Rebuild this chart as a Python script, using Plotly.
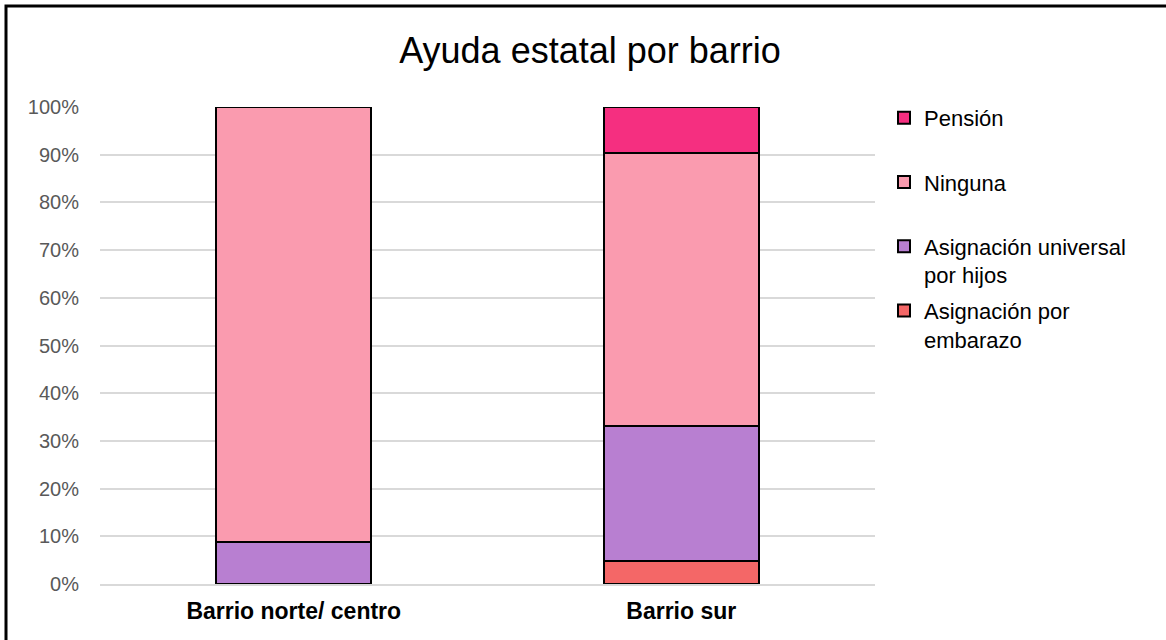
import plotly.graph_objects as go

categories = ["Barrio norte/ centro", "Barrio sur"]
embarazo = [None, 4.8]
auh = [8.8, 28.3]
ninguna = [91.2, 57.3]
pension = [None, 9.6]

series = [
    ("Asignación por<br>embarazo", embarazo, "#F46767"),
    ("Asignación universal<br>por hijos", auh, "#B87FD1"),
    ("Ninguna<br>&nbsp;", ninguna, "#FA9BAF"),
    ("Pensión<br>&nbsp;", pension, "#F52F80"),
]

FONT = "Liberation Sans, Arial, sans-serif"

fig = go.Figure()
n = len(series)
for i, (name, vals, col) in enumerate(series):
    fig.add_trace(go.Bar(
        x=categories, y=vals, name=name, legendgroup=f"g{i}",
        legendrank=1000 - i,
        marker=dict(color=col, line=dict(color="#000000", width=2)),
        width=0.4,
    ))

W, H = 1166, 640
L, R, T, B = 100, 291, 107, 56
pw, ph = W - L - R, H - T - B

def px2x(p):
    return (p - L) / pw

def px2y(p):
    return (H - B - p) / ph

fig.add_shape(type="rect", xref="paper", yref="paper",
              x0=px2x(6), x1=px2x(1175), y0=px2y(6), y1=px2y(650),
              line=dict(color="#000000", width=3), fillcolor="rgba(0,0,0,0)",
              layer="above")

fig.update_layout(
    width=W, height=H,
    barmode="stack",
    paper_bgcolor="white", plot_bgcolor="white",
    margin=dict(l=L, r=R, t=T, b=B, autoexpand=False),
    font=dict(family=FONT, color="#000000"),
    title=dict(text="Ayuda estatal por barrio", x=590 / W, xanchor="center",
               y=1 - 50 / H, yanchor="middle", yref="container",
               font=dict(size=36, color="#000000", family=FONT)),
    xaxis=dict(showgrid=False, showline=True, linecolor="#D9D9D9", linewidth=2,
               layer="above traces", ticks="",
               tickfont=dict(size=23, color="#000000", family=FONT),
               ticklabelstandoff=5),
    yaxis=dict(range=[0, 100], dtick=10, ticksuffix="%", showgrid=True,
               gridcolor="#D9D9D9", gridwidth=2, zeroline=False, showline=False,
               tickfont=dict(size=20, color="#595959", family=FONT),
               ticklabelstandoff=20, fixedrange=True),
    legend=dict(x=px2x(884), xanchor="left", y=px2y(97), yanchor="top",
                font=dict(size=22, color="#000000", family=FONT),
                valign="top", tracegroupgap=4, itemwidth=30,
                traceorder="grouped",
                bgcolor="rgba(0,0,0,0)"),
    showlegend=True,
)

fig.update_xaxes(tickvals=categories, ticktext=[f"<b>{c}</b>" for c in categories])

fig.write_html("out.html", config={"displayModeBar": False},
               post_script="document.body.style.margin='0';")
